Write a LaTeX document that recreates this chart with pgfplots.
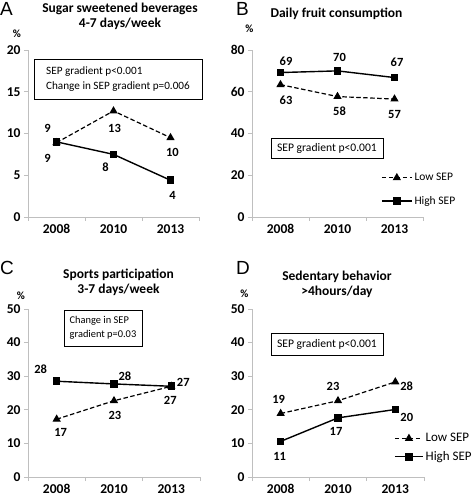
\documentclass[border=0pt]{standalone}
\usepackage{fontspec}
\setmainfont{Carlito}
\newfontfamily\arialfont{Liberation Sans}
\usepackage{pgfplots}
\usepackage{pgfplotstable}
\pgfplotsset{compat=1.18}

\pgfplotstableread{
x y lab dx dy
0.5 8.9 9 -9 14
1.5 12.7 13 1 -17.6
2.5 9.5 10 2 -15
}\tabALow
\pgfplotstableread{
x y lab dx dy
0.5 9.0 9 -9 -17
1.5 7.5 8 -8 -12.7
2.5 4.4 4 2 -15
}\tabAHigh
\pgfplotstableread{
x y lab dx dy
0.5 63.4 63 5.5 -15.3
1.5 57.7 58 2 -15
2.5 56.5 57 0 -15
}\tabBLow
\pgfplotstableread{
x y lab dx dy
0.5 69.2 69 5.5 11.7
1.5 70.0 70 2 13.3
2.5 66.8 67 2.5 15.7
}\tabBHigh
\pgfplotstableread{
x y lab dx dy
0.5 17.2 17 4 -13
1.5 22.7 23 1 -15
2.5 27.0 27 -1 -14
}\tabCLow
\pgfplotstableread{
x y lab dx dy
0.5 28.5 28 -16 12
1.5 27.7 28 11 8
2.5 27.0 27 12 4
}\tabCHigh
\pgfplotstableread{
x y lab dx dy
0.5 18.9 19 -2 14.3
1.5 22.7 23 -5 14.7
2.5 28.3 28 11.4 -4
}\tabDLow
\pgfplotstableread{
x y lab dx dy
0.5 10.6 11 -1 -14.7
1.5 17.6 17 -2 -13.3
2.5 20.1 20 11.5 -8.4
}\tabDHigh

\pgfplotsset{
  panel/.style={
    scale only axis, width=171pt, height=167pt, anchor=south west,
    xmin=0, xmax=3, ymin=0, clip=false,
    axis x line*=bottom, axis y line*=left,
    axis line style={draw=gray!50, line width=0.8pt},
    xtick={0.5,1.5,2.5}, xticklabels={2008,2010,2013},
    minor xtick={0,1,2,3},
    major x tick style={draw=none},
    tick align=outside, major tick length=4pt, minor tick length=4pt,
    every tick/.append style={draw=gray!50, line width=0.8pt},
    /pgf/number format/assume math mode=true,
    tick label style={font=\bfseries\fontsize{13.5}{15}\selectfont, text=black},
    nodes near coords, point meta=explicit symbolic,
    visualization depends on={\thisrow{dx}\as\dx},
    visualization depends on={\thisrow{dy}\as\dy},
    every node near coord/.append style={font=\bfseries\fontsize{12.5}{14}\selectfont, text=black, anchor=center, xshift=\dx*1pt, yshift=\dy*1pt},
  },
  low/.style={black, line width=1.2pt, dash pattern=on 4.5pt off 2.5pt, mark=triangle*, mark size=3.6pt, mark options={solid}},
  high/.style={black, line width=1.4pt, solid, mark=square*, mark size=3.1pt},
}

\begin{document}
\begin{tikzpicture}
\useasboundingbox (0pt,0pt) rectangle (473pt,499pt);

% Panel A
\begin{axis}[panel, at={(28pt,282pt)}, ymax=20, ytick={0,5,...,20}]
\addplot[low] table[x=x,y=y,meta=lab] {\tabALow};
\addplot[high] table[x=x,y=y,meta=lab] {\tabAHigh};
\end{axis}

% Panel B
\begin{axis}[panel, at={(252pt,282pt)}, ymax=80, ytick={0,20,...,80},
  legend image code/.code={\draw[mark repeat=2,mark phase=2,#1] plot coordinates {(0pt,0pt) (15pt,0pt) (30pt,0pt)};},
  legend style={at={(0.754,0.275)}, anchor=north west, draw=none, fill=none, inner sep=0pt, row sep=10pt, font=\fontsize{11.5}{13}\selectfont, cells={anchor=west}}]
\addplot[low] table[x=x,y=y,meta=lab] {\tabBLow};
\addlegendentry{Low SEP}
\addplot[high] table[x=x,y=y,meta=lab] {\tabBHigh};
\addlegendentry{High SEP}
\end{axis}

% Panel C
\begin{axis}[panel, at={(28pt,22pt)}, width=172pt, height=168pt, ymax=50, ytick={0,10,...,50}]
\addplot[low] table[x=x,y=y,meta=lab] {\tabCLow};
\addplot[high] table[x=x,y=y,meta=lab] {\tabCHigh};
\end{axis}

% Panel D
\begin{axis}[panel, at={(252pt,22pt)}, width=172pt, height=168pt, ymax=50, ytick={0,10,...,50},
  legend image code/.code={\draw[mark repeat=2,mark phase=2,#1] plot coordinates {(0pt,0pt) (14pt,0pt) (28pt,0pt)};},
  legend style={at={(0.826,0.272)}, anchor=north west, draw=none, fill=none, inner sep=0pt, row sep=4pt, font=\fontsize{13}{14}\selectfont, cells={anchor=west}}]
\addplot[low] table[x=x,y=y,meta=lab] {\tabDLow};
\addlegendentry{Low SEP}
\addplot[high] table[x=x,y=y,meta=lab] {\tabDHigh};
\addlegendentry{High SEP}
\end{axis}

% panel letters
\begin{scope}[every node/.style={anchor=base west, inner sep=0pt, font=\arialfont\fontsize{19}{20}\selectfont}]
\node at (0pt,483pt) {A};
\node at (236pt,483pt) {B};
\node at (0pt,224pt) {C};
\node at (236pt,224pt) {D};
\end{scope}

% titles
\begin{scope}[every node/.style={anchor=base, inner sep=0pt, font=\bfseries\fontsize{13.5}{15}\selectfont}]
\node at (120pt,486pt) {Sugar sweetened beverages};
\node at (120pt,471.5pt) {4-7 days/week};
\node at (336.5pt,481.5pt) {Daily fruit consumption};
\node at (118.5pt,220pt) {Sports participation};
\node at (118.5pt,205.5pt) {3-7 days/week};
\node at (337pt,218pt) {Sedentary behavior};
\node at (337pt,203.5pt) {>4hours/day};
\end{scope}

% percent signs
\begin{scope}[every node/.style={anchor=base, inner sep=0pt, font=\bfseries\fontsize{11}{12}\selectfont}]
\node at (17pt,461pt) {\%};
\node at (249.5pt,466pt) {\%};
\node at (21pt,199pt) {\%};
\node at (244.5pt,201pt) {\%};
\end{scope}

% annotation boxes
\begin{scope}[every node/.style={draw=black, line width=0.9pt}]
\node[font=\fontsize{11.2}{15}\selectfont, align=left, minimum width=168pt, minimum height=40pt, inner sep=3pt] at (118pt,420pt)
  {SEP gradient p<0.001\\Change in SEP gradient p=0.006};
\node[font=\fontsize{11.6}{14}\selectfont, minimum width=112pt, minimum height=20pt, inner sep=0pt] at (327pt,351pt) {SEP gradient p<0.001};
\node[font=\fontsize{10.4}{14}\selectfont, align=left, minimum width=78pt, minimum height=36pt, inner sep=3pt] at (103pt,171pt)
  {Change in SEP\\gradient p=0.03};
\node[font=\fontsize{11.6}{14}\selectfont, minimum width=112pt, minimum height=22pt, inner sep=0pt] at (327pt,155pt) {SEP gradient p<0.001};
\end{scope}
\end{tikzpicture}
\end{document}
